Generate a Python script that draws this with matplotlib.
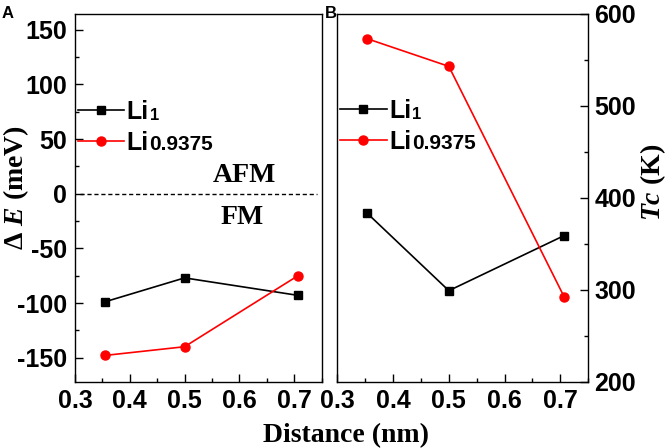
import matplotlib
matplotlib.use("Agg")
import matplotlib.pyplot as plt
from matplotlib.ticker import MultipleLocator
from matplotlib.font_manager import FontProperties

plt.rcParams['font.family'] = 'Liberation Sans'
plt.rcParams['font.weight'] = 'bold'
plt.rcParams['axes.unicode_minus'] = False
plt.rcParams['mathtext.fontset'] = 'custom'
plt.rcParams['mathtext.rm'] = 'Liberation Serif:bold'
plt.rcParams['mathtext.it'] = 'Liberation Serif:italic:bold'
plt.rcParams['mathtext.bf'] = 'Liberation Serif:bold'

# data
distance = [0.354, 0.5, 0.707]
dE_li1 = [-99, -77, -93]
dE_li09375 = [-148, -140, -75]
tc_li1 = [383, 299, 359]
tc_li09375 = [573, 543, 292]
series_names = ['Li', 'Li']
series_suffix = ['1', '0.9375']
suffix_sizes = [12, 15]

fig = plt.figure(figsize=(6.71, 4.48), dpi=100)
axA = fig.add_axes([0.1118, 0.148, 0.3674, 0.8208])
axB = fig.add_axes([0.5027, 0.148, 0.374, 0.8208])

serif_bold = FontProperties(family='Liberation Serif', weight='bold', size=20)
tick_font = FontProperties(family='Liberation Sans', weight='bold', size=18)
leg_font = FontProperties(family='Liberation Sans', weight='bold', size=18)


def style_axis(ax, side):
    for s in ax.spines.values():
        s.set_linewidth(1.0)
    ax.set_xlim(0.3, 0.75)
    ax.xaxis.set_major_locator(MultipleLocator(0.1))
    ax.xaxis.set_minor_locator(MultipleLocator(0.05))
    ax.tick_params(which='both', direction='in', width=1.0, top=False,
                   left=(side == 'left'), right=(side == 'right'),
                   labelleft=(side == 'left'), labelright=(side == 'right'))
    ax.tick_params(which='major', length=6)
    ax.tick_params(which='minor', length=3)
    ax.tick_params(axis='x', which='major', pad=5)
    ax.tick_params(axis='y', which='major', pad=6 if side == 'left' else 4.5)
    for lab in ax.get_xticklabels() + ax.get_yticklabels():
        lab.set_fontproperties(tick_font)


def add_legend(ax, lines, anchor):
    leg = ax.legend(lines, series_names, loc='center left', bbox_to_anchor=anchor,
                    frameon=False, prop=leg_font, handlelength=1.85,
                    handletextpad=0.1, borderpad=0, borderaxespad=0,
                    labelspacing=0.27)
    for txt, suf, sz in zip(leg.get_texts(), series_suffix, suffix_sizes):
        ax.annotate(suf, xy=(1, 0), xycoords=txt, xytext=(0.5, 0.1 * (18 - sz) + 0.3),
                    textcoords='offset points', ha='left', va='bottom', zorder=10,
                    fontproperties=FontProperties(family='Liberation Sans',
                                                  weight='bold', size=sz))


# panel A
l1, = axA.plot(distance, dE_li1, color='black', lw=1.2, marker='s', ms=5.5)
l2, = axA.plot(distance, dE_li09375, color='red', lw=1.2, marker='o', ms=6.5)
axA.axhline(0, color='black', lw=1.0, ls=(0, (3, 2)), xmin=0.02, xmax=0.98)
axA.set_ylim(-172, 164.5)
axA.yaxis.set_major_locator(MultipleLocator(50))
axA.yaxis.set_minor_locator(MultipleLocator(25))
style_axis(axA, 'left')
axA.text(0.609, 11, 'AFM', ha='center', va='baseline', fontproperties=serif_bold)
axA.text(0.605, -27.5, 'FM', ha='center', va='baseline', fontproperties=serif_bold)
axA.set_ylabel(r'$\mathbf{\Delta}\ \mathit{E}$ (meV)', fontproperties=serif_bold)
axA.yaxis.set_label_coords(-0.178, 0.529)
add_legend(axA, [l1, l2], (0.012, 0.692))

# panel B
m1, = axB.plot(distance, tc_li1, color='black', lw=1.2, marker='s', ms=5.5)
m2, = axB.plot(distance, tc_li09375, color='red', lw=1.2, marker='o', ms=6.5)
axB.set_ylim(200, 600)
axB.yaxis.set_major_locator(MultipleLocator(100))
axB.yaxis.set_minor_locator(MultipleLocator(50))
style_axis(axB, 'right')
axB.yaxis.set_label_position('right')
axB.set_ylabel(r'$\mathit{Tc}$ (K)', fontproperties=serif_bold, rotation=90)
axB.yaxis.set_label_coords(1.198, 0.543)
add_legend(axB, [m1, m2], (0.012, 0.695))

fig.text(345.5 / 671, 1 - 442 / 448, 'Distance (nm)', ha='center', va='baseline',
         fontproperties=serif_bold)
fig.text(2 / 671, 1 - 18 / 448, 'A', ha='left', va='baseline',
         fontproperties=FontProperties(family='Liberation Sans', weight='bold', size=12))
fig.text(325 / 671, 1 - 18 / 448, 'B', ha='left', va='baseline',
         fontproperties=FontProperties(family='Liberation Sans', weight='bold', size=12))

fig.savefig('out.png', dpi=100)
